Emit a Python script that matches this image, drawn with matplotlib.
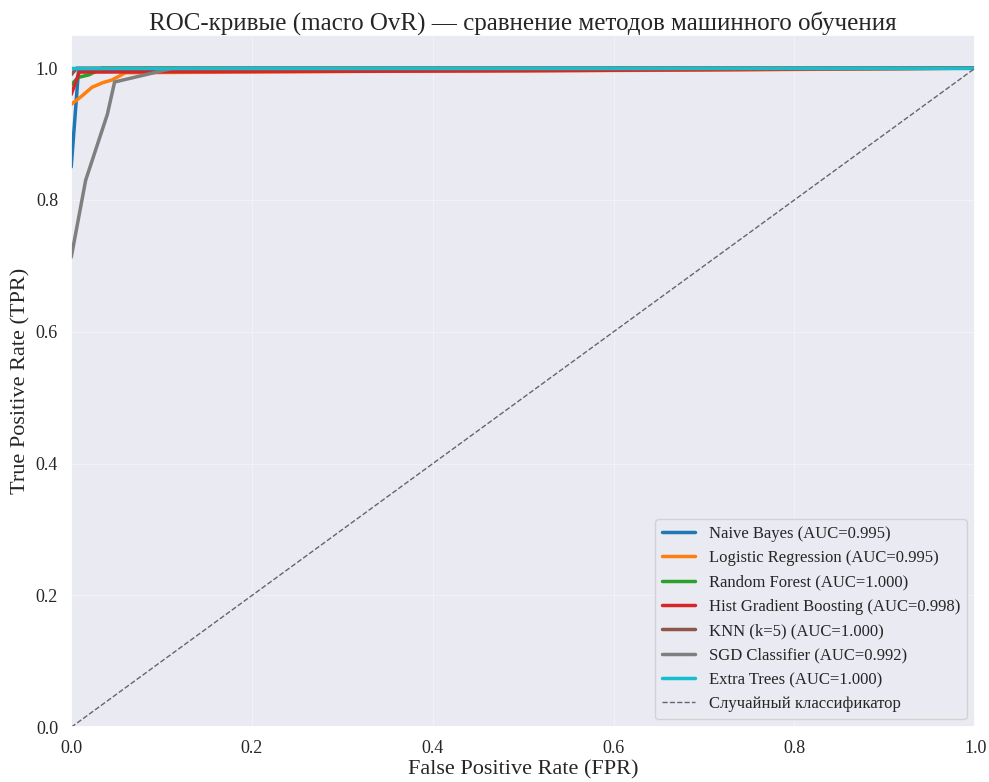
import matplotlib
matplotlib.use("Agg")
import matplotlib.pyplot as plt
import seaborn as sns

sns.set_theme(style="darkgrid")
plt.rcParams['font.family'] = ['Liberation Serif', 'DejaVu Serif']

# ROC points (fpr, tpr)
nb_fpr = [0.0, 0.008, 0.05, 1.0]
nb_tpr = [0.85, 0.995, 0.996, 1.0]

lr_fpr = [0.0, 0.012, 0.023, 0.035, 0.045, 0.06, 0.3, 0.7, 1.0]
lr_tpr = [0.945, 0.958, 0.971, 0.978, 0.982, 0.993, 0.995, 0.997, 1.0]

rf_fpr = [0.0, 0.008, 0.02, 0.034, 1.0]
rf_tpr = [0.975, 0.986, 0.99, 1.0, 1.0]

hgb_fpr = [0.0, 0.009, 0.5, 1.0]
hgb_tpr = [0.96, 0.994, 0.996, 1.0]

knn_fpr = [0.0, 0.006, 1.0]
knn_tpr = [0.99, 1.0, 1.0]

sgd_fpr = [0.0, 0.016, 0.04, 0.048, 0.113, 1.0]
sgd_tpr = [0.713, 0.83, 0.93, 0.979, 1.0, 1.0]

et_fpr = [0.0, 1.0]
et_tpr = [1.0, 1.0]

models = ["Naive Bayes", "Logistic Regression", "Random Forest",
          "Hist Gradient Boosting", "KNN (k=5)", "SGD Classifier", "Extra Trees"]
aucs = [0.995, 0.995, 1.000, 0.998, 1.000, 0.992, 1.000]
fprs = [nb_fpr, lr_fpr, rf_fpr, hgb_fpr, knn_fpr, sgd_fpr, et_fpr]
tprs = [nb_tpr, lr_tpr, rf_tpr, hgb_tpr, knn_tpr, sgd_tpr, et_tpr]
colors = ["#1f77b4", "#ff7f0e", "#2ca02c", "#d62728", "#8c564b", "#7f7f7f", "#17becf"]

fig, ax = plt.subplots(figsize=(9.89, 7.82), dpi=100)
plt.subplots_adjust(left=0.072, right=0.986, top=0.955, bottom=0.07)

for name, auc, f, t, c in zip(models, aucs, fprs, tprs, colors):
    ax.plot(f, t, color=c, lw=2.5, label=f"{name} (AUC={auc:.3f})")

ax.plot([0, 1], [0, 1], color="#666666", lw=1, ls="--", label="Случайный классификатор")

ax.set_xlim(0, 1)
ax.set_ylim(0, 1.05)
ax.set_xlabel("False Positive Rate (FPR)", fontsize=16, labelpad=2)
ax.set_ylabel("True Positive Rate (TPR)", fontsize=16)
ax.set_title("ROC-кривые (macro OvR) — сравнение методов машинного обучения", fontsize=18, pad=4)
ax.tick_params(labelsize=13)
ax.grid(alpha=0.35, lw=0.8)
ax.legend(loc="lower right", fontsize=12)

plt.savefig("out.png", dpi=100)
